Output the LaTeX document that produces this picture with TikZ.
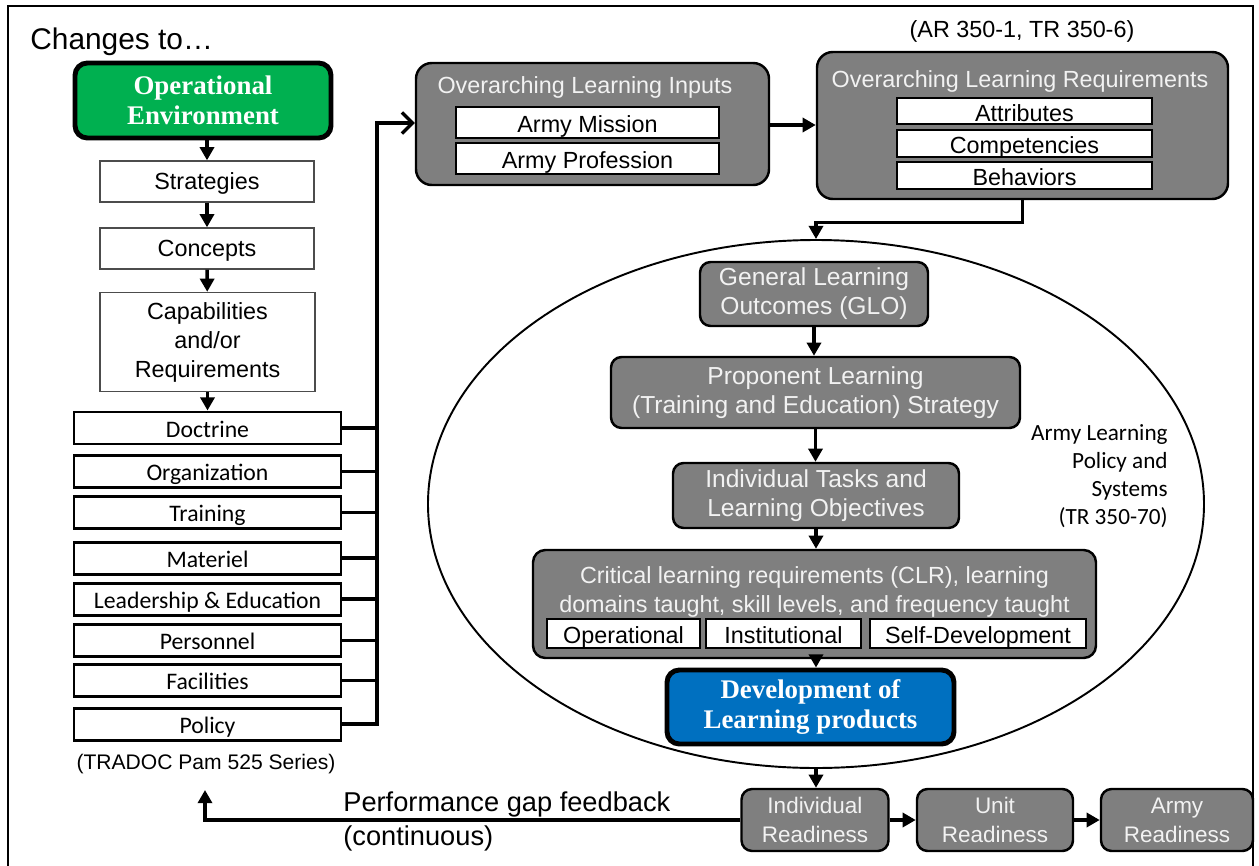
\documentclass[tikz,border=0pt]{standalone}
\usepackage{fontspec}
\setmainfont{Liberation Sans}
\newfontfamily\timesfont{Liberation Serif}
\newfontfamily\calfont{Carlito}
\usetikzlibrary{shapes.geometric,arrows.meta}

\definecolor{oegreen}{HTML}{00B050}
\definecolor{dlblue}{HTML}{0070C0}
\definecolor{boxgray}{HTML}{7F7F7F}
\definecolor{titlegray}{HTML}{F2F2F2}

\tikzset{
  wh/.style 2 args={minimum width=#1*0.02cm, minimum height=#2*0.02cm},
  plainbox/.style={draw=black!70, line width=0.8pt, fill=white, align=center,
    inner sep=0pt, font=\fontsize{13.3}{16.5}\selectfont},
  oneline/.style={text height=10.2pt, text depth=0.6pt},
  dotbox/.style={draw=black, line width=1.7pt, fill=white, inner sep=0pt,
    text height=11pt, text depth=0.6pt, font=\calfont\fontsize{13.5}{16}\selectfont},
  graybox/.style={draw=black, line width=1.4pt, fill=boxgray, rounded corners=9pt,
    inner sep=0pt},
  grayitem/.style={graybox, rounded corners=6pt, text=titlegray, align=center,
    font=\fontsize{14}{16.5}\selectfont},
  whitebox/.style={draw=black, line width=1.2pt, fill=white, inner sep=0pt,
    text height=12pt, text depth=0.4pt, font=\fontsize{13.3}{16}\selectfont},
  boxtitle/.style={text=titlegray, inner sep=0pt, font=\fontsize{13.3}{16}\selectfont},
  keybox/.style={draw=black, line width=2.8pt, rounded corners=7pt, text=white,
    align=center, inner sep=0pt, font=\timesfont\bfseries\fontsize{15.3}{17.2}\selectfont},
  note/.style={inner sep=0pt, font=\fontsize{13.3}{16}\selectfont},
  arr/.style={line width=1.9pt, -{Triangle[length=7.5pt,width=8pt]}},
  link/.style={line width=1.9pt},
  barb/.style={line width=1.9pt, -{Straight Barb[length=6pt,width=12pt]}},
}

\begin{document}
\begin{tikzpicture}[x=0.02cm, y=-0.02cm, line join=miter]
\useasboundingbox (0,0) rectangle (1259,866);
\draw[line width=1.2pt] (8,6) rectangle (1253,868);

% ---------- left column ----------
\node[anchor=base west, inner sep=0pt, font=\fontsize{17}{20}\selectfont] (chg) at (30,49) {Changes to\ldots};
\node[keybox, fill=oegreen, wh={256}{75}] (oe) at (203,100.5) {Operational\\Environment};
\node[plainbox, oneline, wh={214}{41}] (strat) at (207,181.5) {Strategies};
\node[plainbox, oneline, wh={214}{41}] (conc) at (207,248.5) {Concepts};
\node[plainbox, wh={215}{99}] (capa) at (207.5,342) {Capabilities\\and/or\\Requirements};

\node[dotbox, wh={267}{32}] (doc) at (207.5,428) {Doctrine};
\node[dotbox, wh={267}{32}] (org) at (207.5,471.5) {Organization};
\node[dotbox, wh={267}{32}] (trn) at (207.5,512.5) {Training};
\node[dotbox, wh={267}{32}] (mat) at (207.5,558) {Materiel};
\node[dotbox, wh={267}{32}] (led) at (207.5,599) {Leadership \& Education};
\node[dotbox, wh={267}{32}] (per) at (207.5,640.5) {Personnel};
\node[dotbox, wh={267}{32}] (fac) at (207.5,680.5) {Facilities};
\node[dotbox, wh={267}{32}] (pol) at (207.5,724) {Policy};
\node[note, font=\fontsize{12}{14}\selectfont] (trad) at (206,764) {(TRADOC Pam 525 Series)};

\draw[arr] (oe.south -| strat.north) -- (strat.north);
\draw[arr] (strat) -- (conc);
\draw[arr] (conc) -- (capa);
\draw[arr] (capa) -- (doc);

% ---------- overarching inputs / requirements ----------
\node[graybox, wh={353}{122}] (oli) at (592.5,124) {};
\node[boxtitle] (oliT) at (585,87) {Overarching Learning Inputs};
\node[whitebox, wh={263}{31}] (mis) at (587.5,122.5) {Army Mission};
\node[whitebox, wh={263}{31}] (prof) at (587.5,158.5) {Army Profession};

\node[note] (ar) at (1022,31) {(AR 350-1, TR 350-6)};
\node[graybox, wh={411}{147}] (olr) at (1022.5,125.5) {};
\node[boxtitle] (olrT) at (1020,81) {Overarching Learning Requirements};
\node[whitebox, wh={255}{26}] (att) at (1024.5,111) {Attributes};
\node[whitebox, wh={255}{27}] (comp) at (1024.5,143.5) {Competencies};
\node[whitebox, wh={255}{27}] (beh) at (1024.5,175.5) {Behaviors};

% bus from the DOTMLPF-P boxes up to the learning inputs
\coordinate (bustop) at (377,123);
\draw[barb] (pol.east) -| (bustop) -- (bustop -| oli.west);
\foreach \b in {doc,org,trn,mat,led,per,fac}
  \draw[link] (\b.east) -- (\b.east -| bustop);

\draw[arr] (oli.east |- 0,125) -- (olr.west |- 0,125);

% ---------- Army learning policy and systems ----------
\node[draw, ellipse, line width=1.1pt, inner sep=0pt, wh={776}{528}] (alps) at (816,504) {};
\draw[arr] (olr.south) -- ++(0,22) -| (alps.north);

\node[grayitem, wh={228}{64}] (glo) at (814,294) {General Learning\\Outcomes (GLO)};
\node[grayitem, wh={409}{71}] (pls) at (815.5,392.5) {Proponent Learning\\(Training and Education) Strategy};
\node[grayitem, wh={286}{65}] (itlo) at (816,495.5) {Individual Tasks and\\Learning Objectives};
\node[graybox, rounded corners=7pt, wh={563}{108}] (clr) at (814.5,604) {};
\node[boxtitle, align=center, font=\fontsize{13.3}{16}\selectfont] (clrT) at (814.5,592)
  {Critical learning requirements (CLR), learning\\domains taught, skill levels, and frequency taught};
\node[whitebox, wh={153}{29}] (opd) at (623.5,633.5) {Operational};
\node[whitebox, wh={155}{29}] (ind) at (783.5,633.5) {Institutional};
\node[whitebox, wh={216}{29}] (sd) at (978,633.5) {Self-Development};
\node[keybox, fill=dlblue, wh={287}{74}] (dlp) at (810.5,707) {Development of\\Learning products};

\node[inner sep=0pt, align=right, anchor=east, font=\calfont\fontsize{13.2}{16}\selectfont]
  (alpsT) at (1168,476) {Army Learning\\Policy and\\Systems\\(TR 350-70)};

\draw[arr] (glo) -- (glo.south |- pls.north);
\draw[arr] (pls) -- (pls.south |- itlo.north);
\draw[arr] (itlo) -- (itlo.south |- clr.north);
\draw[arr] (clr.south -| itlo) -- (itlo |- dlp.north);

% ---------- readiness ----------
\node[grayitem, wh={147}{62}, font=\fontsize{12.8}{16.5}\selectfont] (ir) at (815,820) {Individual\\Readiness};
\node[grayitem, wh={156}{62}, font=\fontsize{12.8}{16.5}\selectfont] (ur) at (995,820) {Unit\\Readiness};
\node[grayitem, wh={152}{62}, font=\fontsize{12.8}{16.5}\selectfont] (arm) at (1177,820) {Army\\Readiness};
\draw[arr] (alps.south) -- (alps.south |- ir.north);
\draw[arr] (ir) -- (ur);
\draw[arr] (ur) -- (arm);

% performance gap feedback back to the left column
\coordinate (fbtip) at (205,790);
\draw[arr] (ir.west) -- (ir.west -| fbtip) -- (fbtip);
\node[anchor=west, inner sep=0pt, font=\fontsize{15.5}{18}\selectfont] (perf) at (343,804) {Performance gap feedback};
\node[anchor=west, inner sep=0pt, font=\fontsize{15.5}{18}\selectfont] (cont) at (343,838) {(continuous)};
\end{tikzpicture}
\end{document}
